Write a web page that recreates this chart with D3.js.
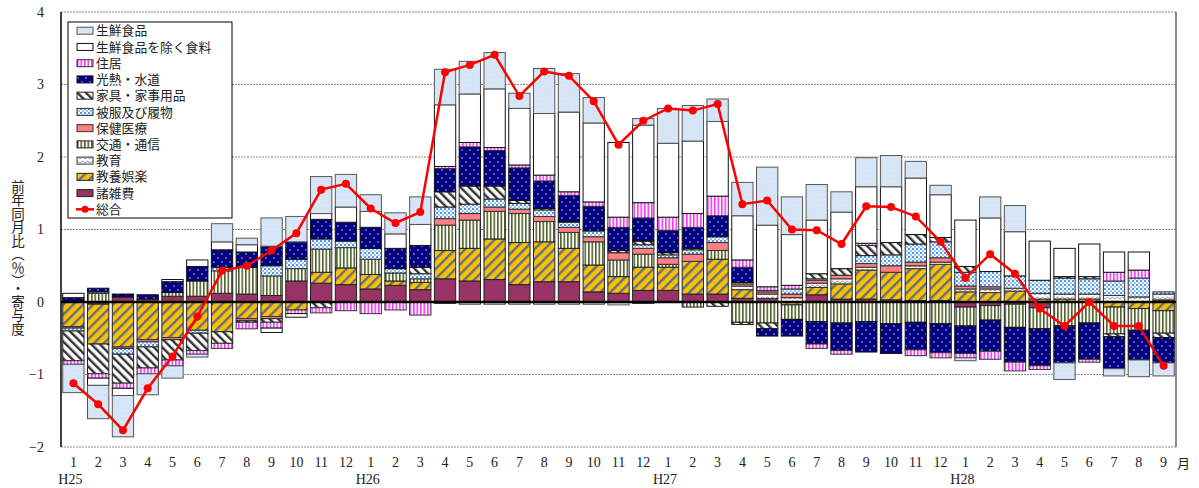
<!DOCTYPE html>
<html>
<head>
<meta charset="utf-8">
<script src="https://cdn.jsdelivr.net/npm/d3@7"></script>
<style>
body { margin: 0; background: #fff; }
text { font-family: "Liberation Serif", serif; fill: #222; }
.jp { font-family: "Noto Sans CJK JP", sans-serif; }
</style>
</head>
<body>
<svg id="main-svg" width="1199" height="488"></svg>
<script>
// months H25.1 - H28.9
var months = ["1","2","3","4","5","6","7","8","9","10","11","12",
              "1","2","3","4","5","6","7","8","9","10","11","12",
              "1","2","3","4","5","6","7","8","9","10","11","12",
              "1","2","3","4","5","6","7","8","9"];
var years = ["H25","H26","H27","H28"];
var yearStart = [0, 12, 24, 36];
var yTicks = [4, 3, 2, 1, 0, -1, -2];

// contributions (percentage points)
var fresh   = [-0.39,-0.46,-0.57,-0.29,-0.17,-0.04,0.25,0.09,0.39,0.35,0.51,0.45,
               0.23,0.29,0.38,0.49,0.45,0.50,0.21,0.62,0.53,0.35,-0.04,0.09,
               0.48,0.49,0.31,0.46,0.80,0.52,0.49,0.28,0.40,0.43,0.23,0.13,
               -0.04,0.29,0.36,0,-0.23,0,-0.10,-0.23,-0.18];
var foodEx  = [0.06,-0.10,-0.10,0,0.03,0.09,0.11,0.10,-0.06,-0.05,0.08,0.21,
               0.22,0.20,0.29,0.85,0.67,0.81,0.78,0.85,1.10,1.09,1.03,1.07,
               1.02,1.00,1.03,0.61,0.85,0.70,0.74,0.78,0.78,0.77,0.78,0.59,
               0.64,0.74,0.61,0.54,0.39,0.45,0.28,0.25,0];
var housing = [-0.05,-0.06,-0.07,-0.08,-0.08,-0.05,-0.07,-0.09,-0.08,-0.05,-0.07,-0.12,
               -0.16,-0.11,-0.18,0.03,0.06,0.04,0.04,0.08,0.05,0.06,0.14,0.21,
               0.18,0.19,0.27,0.10,0.05,0.05,-0.06,-0.05,0.03,0,-0.08,-0.07,
               -0.06,-0.11,-0.12,-0.05,0,-0.04,0.12,0.11,0];
var fuel    = [0.06,0.05,0.04,0.06,0.15,0.20,0.24,0.21,0.27,0.24,0.27,0.26,
               0.29,0.28,0.30,0.32,0.54,0.49,0.45,0.38,0.36,0.34,0.32,0.32,
               0.31,0.29,0.29,0.21,-0.10,-0.23,-0.31,-0.38,-0.42,-0.41,-0.38,-0.40,
               -0.38,-0.43,-0.48,-0.51,-0.51,-0.50,-0.44,-0.41,-0.35];
var furn    = [-0.41,-0.41,-0.40,-0.29,-0.28,-0.24,-0.16,-0.02,-0.05,0,-0.08,0,
               0,0,0.09,0.21,0.25,0.18,0.04,0.02,0.01,0,0.03,0.05,
               0.03,0.02,-0.06,-0.03,-0.08,0,0.07,0.09,0.14,0.17,0.13,0.06,
               0.08,0,0,0,0.02,0.03,-0.04,0,-0.06];
var cloth   = [-0.04,0.02,-0.08,-0.07,0,-0.04,0.05,0,0.14,0.13,0.14,0.09,
               0.15,0.06,0.07,0.16,0.13,0.11,0.08,0.09,0.07,0.08,0,0.05,
               0.04,0.06,0.08,0.02,0.02,0.07,0.02,0,0.11,0.15,0.25,0.22,
               0.19,0.21,0.17,0.18,0.22,0.21,0.20,0.26,0.03];
var med     = [-0.02,0,-0.02,-0.03,-0.03,0,0,-0.03,-0.03,0,0,0,
               0,0,0,0.09,0.09,0.06,0.06,0.07,0.07,0.07,0.10,0.08,
               0.09,0.10,0.11,0.03,0.03,0.05,0.04,0.05,0.05,0.09,0.05,0.06,
               0.04,0.03,0,0,0,0,0,0,0];
var trans   = [0,0.12,0,0,0.05,0.21,0.31,0.37,0.27,0.17,0.32,0.28,
               0.21,0.11,0.05,0.35,0.39,0.38,0.40,0.28,0.22,0.32,0.23,0.18,
               0.04,-0.07,0.12,-0.28,-0.29,-0.20,-0.27,-0.29,-0.27,-0.30,-0.28,-0.30,
               -0.26,-0.20,-0.32,-0.29,-0.33,-0.29,-0.37,-0.30,-0.31];
var edu     = [0,0,0,0,0,0,0,0,0,0,0,0,
               0,0,0,-0.02,-0.03,-0.03,-0.03,-0.03,-0.03,-0.03,0,-0.02,
               0,0,0,0.05,0.06,0.06,0.06,0.07,0.04,0,0.04,0.03,
               0.04,0.05,0.04,0.08,0.07,0.07,0.09,0.07,0.08];
var cult    = [-0.34,-0.55,-0.62,-0.52,-0.49,-0.39,-0.41,-0.23,-0.20,-0.11,0.15,0.23,
               0.20,0.06,0.10,0.39,0.45,0.56,0.58,0.55,0.46,0.37,0.23,0.32,
               0.32,0.45,0.48,0.12,0,-0.04,0.10,0.21,0.40,0.38,0.44,0.50,
               0.14,0.13,0.15,0.04,0.04,0.04,-0.07,-0.09,-0.12];
var misc    = [0,-0.03,0.07,0.04,0.08,0.08,0.12,0.11,0.09,0.29,0.26,0.24,
               0.18,0.23,0.17,0.32,0.29,0.31,0.24,0.28,0.28,0.14,0.12,0.16,
               0.16,0.11,0.11,0.05,0.05,0,0.10,0.04,0.04,0.03,0.02,0.02,
               -0.07,-0.05,-0.03,-0.08,0,0,0,0,0.03];
var total   = [-1.12,-1.41,-1.77,-1.19,-0.75,-0.20,0.43,0.50,0.71,0.95,1.55,1.63,
               1.29,1.09,1.24,3.17,3.27,3.41,2.84,3.18,3.12,2.77,2.17,2.50,
               2.67,2.64,2.73,1.35,1.40,1.00,0.99,0.80,1.32,1.31,1.18,0.83,
               0.33,0.66,0.39,-0.09,-0.33,0.00,-0.33,-0.33,-0.88];

(function() {

    // legend order (top of stack first)
    var series = [
        {key: "fresh",   name: "生鮮食品",           values: fresh,   fill: "url(#p-fresh)",   stroke: "#555"},
        {key: "foodEx",  name: "生鮮食品を除く食料", values: foodEx,  fill: "#fff",            stroke: "#111"},
        {key: "housing", name: "住居",               values: housing, fill: "url(#p-housing)", stroke: "#333"},
        {key: "fuel",    name: "光熱・水道",         values: fuel,    fill: "url(#p-fuel)",    stroke: "#111"},
        {key: "furn",    name: "家具・家事用品",     values: furn,    fill: "url(#p-furn)",    stroke: "#222"},
        {key: "cloth",   name: "被服及び履物",       values: cloth,   fill: "url(#p-cloth)",   stroke: "#333"},
        {key: "med",     name: "保健医療",           values: med,     fill: "#ff8080",         stroke: "#333"},
        {key: "trans",   name: "交通・通信",         values: trans,   fill: "url(#p-trans)",   stroke: "#222"},
        {key: "edu",     name: "教育",               values: edu,     fill: "url(#p-edu)",     stroke: "#333"},
        {key: "cult",    name: "教養娯楽",           values: cult,    fill: "url(#p-cult)",    stroke: "#222"},
        {key: "misc",    name: "諸雑費",             values: misc,    fill: "#993366",         stroke: "#222"}
    ];
    var byKey = {};
    series.forEach(function(s) { byKey[s.key] = s; });

    var svg = d3.select("#main-svg");
    var left = 61, right = 1176, top = 12, bottom = 447;

    // patterns
    var defs = svg.append("defs");
    var pat = function(id, w, h, tr) {
        var p = defs.append("pattern").attr("id", id)
            .attr("patternUnits", "userSpaceOnUse")
            .attr("width", w).attr("height", h);
        if (tr) p.attr("patternTransform", tr);
        return p;
    };
    var p;
    p = pat("p-fresh", 6, 6);
    p.append("rect").attr("width", 6).attr("height", 6).attr("fill", "#d5e5f5");
    p.append("circle").attr("cx", 2).attr("cy", 2).attr("r", 0.8).attr("fill", "#e6f0fa");

    p = pat("p-housing", 3.5, 4);
    p.append("rect").attr("width", 3.5).attr("height", 4).attr("fill", "#fff");
    p.append("rect").attr("width", 1.6).attr("height", 4).attr("fill", "#ff33ff");

    p = pat("p-fuel", 8, 8);
    p.append("rect").attr("width", 8).attr("height", 8).attr("fill", "#000080");
    p.append("circle").attr("cx", 2).attr("cy", 2).attr("r", 0.7).attr("fill", "#fff");
    p.append("circle").attr("cx", 6).attr("cy", 6).attr("r", 0.7).attr("fill", "#fff");

    p = pat("p-furn", 6, 6, "rotate(-45)");
    p.append("rect").attr("width", 6).attr("height", 6).attr("fill", "#fff");
    p.append("rect").attr("width", 2.4).attr("height", 6).attr("fill", "#333");

    p = pat("p-cloth", 4, 4);
    p.append("rect").attr("width", 4).attr("height", 4).attr("fill", "#f4f9ff");
    p.append("circle").attr("cx", 1).attr("cy", 1).attr("r", 1).attr("fill", "#1f78d8");
    p.append("circle").attr("cx", 3).attr("cy", 3).attr("r", 0.9).attr("fill", "#6fb0ee");

    p = pat("p-trans", 3.5, 4);
    p.append("rect").attr("width", 3.5).attr("height", 4).attr("fill", "#fff");
    p.append("rect").attr("width", 1.6).attr("height", 4).attr("fill", "#4f6228");

    p = pat("p-edu", 5, 4);
    p.append("rect").attr("width", 5).attr("height", 4).attr("fill", "#fff");
    p.append("path").attr("d", "M0,3 L2.5,1 L5,3").attr("fill", "none")
        .attr("stroke", "#888").attr("stroke-width", 0.9);

    p = pat("p-cult", 7, 7, "rotate(45)");
    p.append("rect").attr("width", 7).attr("height", 7).attr("fill", "#ffc000");
    p.append("rect").attr("width", 2.4).attr("height", 7).attr("fill", "#5b7089");

    // scales
    var x = d3.scaleBand()
        .domain(d3.range(months.length))
        .range([left, right])
        .paddingInner(0.14)
        .paddingOuter(0.07);
    var y = d3.scaleLinear().domain([-2, 4]).range([bottom, top]);

    // grid
    svg.append("g").selectAll("line")
        .data(yTicks.filter(function(t) { return t !== 0; }))
        .enter().append("line")
        .attr("x1", left).attr("x2", right)
        .attr("y1", function(t) { return y(t); })
        .attr("y2", function(t) { return y(t); })
        .attr("stroke", "#8a8a8a")
        .attr("stroke-dasharray", "2,1");

    // stacked bars
    var stackKeys = series.map(function(s) { return s.key; }).reverse();
    var rows = months.map(function(m, i) {
        var r = {i: i};
        series.forEach(function(s) { r[s.key] = s.values[i]; });
        return r;
    });
    var stacked = d3.stack().keys(stackKeys)
        .offset(d3.stackOffsetDiverging)(rows);

    svg.append("g").selectAll(".layer")
        .data(stacked)
        .enter().append("g")
        .classed("layer", true)
        .each(function(layer) {
            var s = byKey[layer.key];
            d3.select(this).selectAll("rect")
                .data(layer.filter(function(d) { return d[1] - d[0] !== 0; }))
                .enter().append("rect")
                .attr("x", function(d) { return x(d.data.i); })
                .attr("width", x.bandwidth())
                .attr("y", function(d) { return y(d[1]); })
                .attr("height", function(d) { return y(d[0]) - y(d[1]); })
                .attr("fill", s.fill)
                .attr("stroke", s.stroke)
                .attr("stroke-width", 1);
        });

    // frame
    svg.append("line").attr("x1", left).attr("x2", left)
        .attr("y1", top).attr("y2", bottom)
        .attr("stroke", "#000").attr("stroke-width", 1.5);
    svg.append("line").attr("x1", right).attr("x2", right)
        .attr("y1", top).attr("y2", bottom)
        .attr("stroke", "#666").attr("stroke-width", 1.5);
    svg.append("line").attr("x1", left).attr("x2", right)
        .attr("y1", y(0)).attr("y2", y(0))
        .attr("stroke", "#000").attr("stroke-width", 2.5);

    // total line
    var cx = function(d, i) { return x(i) + x.bandwidth() / 2; };
    svg.append("path")
        .datum(total)
        .attr("fill", "none")
        .attr("stroke", "#ff0000")
        .attr("stroke-width", 2.5)
        .attr("d", d3.line().x(cx).y(function(d) { return y(d); }));
    svg.append("g").selectAll("circle")
        .data(total)
        .enter().append("circle")
        .attr("cx", cx)
        .attr("cy", function(d) { return y(d); })
        .attr("r", 4)
        .attr("fill", "#ff0000");

    // axes
    var yAxis = svg.append("g")
        .attr("transform", "translate(" + left + ",0)")
        .call(d3.axisLeft(y).tickValues(yTicks).tickSize(0).tickPadding(17)
            .tickFormat(function(d) { return d < 0 ? "\u2212" + (-d) : d; }));
    yAxis.select(".domain").remove();
    yAxis.selectAll("text").attr("font-size", 14).attr("font-family", "Liberation Serif");

    var xAxis = svg.append("g")
        .attr("transform", "translate(0," + bottom + ")")
        .call(d3.axisBottom(x).tickSize(0).tickPadding(10)
            .tickFormat(function(i) { return months[i]; }));
    xAxis.select(".domain").remove();
    xAxis.selectAll("text").attr("font-size", 14).attr("font-family", "Liberation Serif");

    svg.append("text").classed("jp", true)
        .attr("x", x(months.length - 1) + x.bandwidth() / 2 + 20)
        .attr("y", 468)
        .attr("text-anchor", "middle")
        .attr("font-size", 13)
        .text("月");

    svg.append("g").selectAll("text")
        .data(years)
        .enter().append("text")
        .attr("x", function(d, k) { return x(yearStart[k]) + x.bandwidth() / 2 - 3; })
        .attr("y", 484)
        .attr("text-anchor", "middle")
        .attr("font-size", 14)
        .text(function(d) { return d; });

    svg.append("text").classed("jp", true)
        .attr("x", 18).attr("y", 180)
        .attr("font-size", 13.5)
        .style("writing-mode", "vertical-rl")
        .text("前年同月比（％）・寄与度");

    // legend
    var lg = svg.append("g");
    lg.append("rect").attr("x", 68).attr("y", 22).attr("width", 164).attr("height", 196)
        .attr("fill", "#fff").attr("stroke", "#000");
    var rowY = function(i) { return 30.7 + i * 16.24; };
    series.forEach(function(s, i) {
        lg.append("rect")
            .attr("x", 77).attr("y", rowY(i) - 3.5)
            .attr("width", 16).attr("height", 7)
            .attr("fill", s.fill).attr("stroke", s.stroke);
        lg.append("text").classed("jp", true)
            .attr("x", 96).attr("y", rowY(i))
            .attr("dy", "0.36em")
            .attr("font-size", 12.8)
            .text(s.name);
    });
    var ty = rowY(series.length);
    lg.append("line").attr("x1", 76).attr("x2", 94).attr("y1", ty).attr("y2", ty)
        .attr("stroke", "#ff0000").attr("stroke-width", 2.5);
    lg.append("circle").attr("cx", 85).attr("cy", ty).attr("r", 3.5).attr("fill", "#ff0000");
    lg.append("text").classed("jp", true)
        .attr("x", 96).attr("y", ty).attr("dy", "0.36em")
        .attr("font-size", 12.8)
        .text("総合");
})();
</script>
</body>
</html>
